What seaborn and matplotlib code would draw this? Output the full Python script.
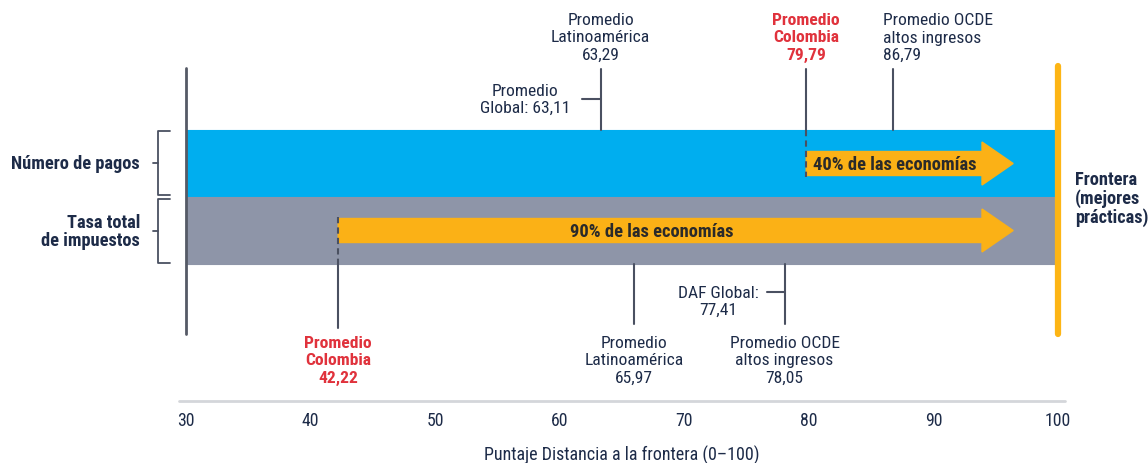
import matplotlib
matplotlib.use("Agg")
import matplotlib.pyplot as plt
from matplotlib import font_manager
import seaborn as sns
from matplotlib.patches import Polygon

# data
rows = ["Número de pagos", "Tasa total\nde impuestos"]
colombia = [79.79, 42.22]
latam = [63.29, 65.97]
ocde = [86.79, 78.05]
global_avg = [63.11, 77.41]
share = ["40% de las economías", "90% de las economías"]
ticks = [30, 40, 50, 60, 70, 80, 90, 100]
xmin, xmax = 30, 100

sns.set_style("white")
# narrowest font we can find
installed = {f.name for f in font_manager.fontManager.ttflist}
for fam in ['Liberation Sans Narrow', 'Roboto Condensed', 'Open Sans Condensed',
            'Noto Sans Condensed', 'Noto Sans Display Condensed', 'Roboto', 'Liberation Sans']:
    if fam in installed:
        break
plt.rcParams['font.family'] = [fam, 'DejaVu Sans']

NAVY = "#1d2b48"
RED = "#e0323c"
BLUE = "#00aeef"
GREY = "#8e95a8"
ORANGE = "#fdb515"
LINE = "#4a5061"

fig = plt.figure(figsize=(11.48, 4.64), dpi=100)
ax = fig.add_axes([0, 0, 1, 1])
# x in score units, y in pixel units (top = 0)
ppu = (1058 - 186) / (xmax - xmin)
ax.set_xlim(xmin - 186 / ppu, xmin + (1148 - 186) / ppu)
ax.set_ylim(464, 0)
ax.axis("off")

# bands
band_y = [164.5, 231.5]
ax.barh(band_y, [xmax - xmin] * 2, left=xmin, height=67, color=[BLUE, GREY],
        edgecolor=[BLUE, GREY], linewidth=0.8, zorder=1)

# frame lines
ax.plot([xmin, xmin], [69, 335], color="#555a66", lw=2, zorder=2)
ax.plot([xmax, xmax], [67, 335], color=ORANGE, lw=4.5, zorder=2)

# arrows
tip = xmax - 3.6
base = xmax - 6.1
for c, yc, lab in zip(colombia, band_y, share):
    pts = [(c, yc - 12), (base, yc - 12), (base, yc - 21.5), (tip, yc),
           (base, yc + 21.5), (base, yc + 12), (c, yc + 12)]
    ax.add_patch(Polygon(pts, closed=True, color="#fbb116", zorder=3))
ax.text(colombia[0] + 0.55, band_y[0] + 1, share[0], ha="left", va="center",
        fontsize=13.3, fontweight="bold", color="#2a2a2a", zorder=4)
ax.text(67.4, band_y[1] + 1, share[1], ha="center", va="center",
        fontsize=13.3, fontweight="bold", color="#2a2a2a", zorder=4)

# dashed Colombia markers inside bands
ax.plot([colombia[0]] * 2, [131, 178], color=LINE, lw=1.5, ls=(0, (3, 2)), zorder=4)
ax.plot([colombia[1]] * 2, [218, 265], color=LINE, lw=1.5, ls=(0, (3, 2)), zorder=4)

fs = 12.6
ls = 1.17
# top markers (Número de pagos)
for x in [latam[0], colombia[0], ocde[0]]:
    ax.plot([x, x], [70, 131], color=LINE, lw=1.5, zorder=2)
ax.plot([latam[0] - 1.5, latam[0]], [100, 100], color=LINE, lw=1.5)
ax.text(latam[0], 38, f"Promedio\nLatinoamérica\n{latam[0]:.2f}".replace(".", ","),
        ha="center", va="center", fontsize=fs, color=NAVY, linespacing=ls)
ax.text(colombia[0], 38, f"Promedio\nColombia\n{colombia[0]:.2f}".replace(".", ","),
        ha="center", va="center", fontsize=fs, color=RED, fontweight="bold", linespacing=ls)
ax.text(ocde[0] - 0.8, 38, f"Promedio OCDE\naltos ingresos\n{ocde[0]:.2f}".replace(".", ","),
        ha="left", va="center", fontsize=fs, color=NAVY, linespacing=ls)
ax.text(latam[0] - 6.1, 100, f"Promedio\nGlobal: {global_avg[0]:.2f}".replace(".", ","),
        ha="center", va="center", fontsize=fs, color=NAVY, linespacing=ls)

# bottom markers (Tasa total de impuestos)
ax.plot([colombia[1]] * 2, [265, 329], color=LINE, lw=1.5, zorder=2)
for x in [latam[1], ocde[1]]:
    ax.plot([x, x], [265, 325], color=LINE, lw=1.5, zorder=2)
ax.plot([ocde[1] - 1.4, ocde[1]], [293, 293], color=LINE, lw=1.5)
ax.text(colombia[1], 361, f"Promedio\nColombia\n{colombia[1]:.2f}".replace(".", ","),
        ha="center", va="center", fontsize=fs, color=RED, fontweight="bold", linespacing=ls)
ax.text(latam[1], 361, f"Promedio\nLatinoamérica\n{latam[1]:.2f}".replace(".", ","),
        ha="center", va="center", fontsize=fs, color=NAVY, linespacing=ls)
ax.text(ocde[1], 361, f"Promedio OCDE\naltos ingresos\n{ocde[1]:.2f}".replace(".", ","),
        ha="center", va="center", fontsize=fs, color=NAVY, linespacing=ls)
ax.text(ocde[1] - 5.3, 302, f"DAF Global:\n{global_avg[1]:.2f}".replace(".", ","),
        ha="center", va="center", fontsize=fs, color=NAVY, linespacing=ls)

# left brackets and row labels
bx = xmin - 28 / ppu
for (y0, y1), lab in zip([(132, 196), (200, 264)], rows):
    ym = (y0 + y1) / 2
    ax.plot([bx + 12 / ppu, bx, bx, bx + 12 / ppu], [y0, y0, y1, y1], color=LINE, lw=1.3)
    ax.plot([bx, bx - 5 / ppu], [ym, ym], color=LINE, lw=1.3)
    ax.text(xmin - 46 / ppu, ym, lab, ha="right", va="center", fontsize=13.2,
            fontweight="bold", color=NAVY, linespacing=1.05)

# right label
ax.text(xmax + 17 / ppu, 199, "Frontera\n(mejores\nprácticas)", ha="left", va="center",
        fontsize=13.2, fontweight="bold", color=NAVY, linespacing=1.0)

# bottom scale
ax.plot([xmin - 0.6, xmax + 0.6], [402, 402], color="#d4d6da", lw=2)
for t in ticks:
    ax.text(t, 421, str(t), ha="center", va="center", fontsize=12.8, color=NAVY)
ax.text((xmin + xmax) / 2, 455, "Puntaje Distancia a la frontera (0–100)", ha="center",
        va="center", fontsize=13, color=NAVY)

plt.savefig("out.png", dpi=100)
plt.close()
